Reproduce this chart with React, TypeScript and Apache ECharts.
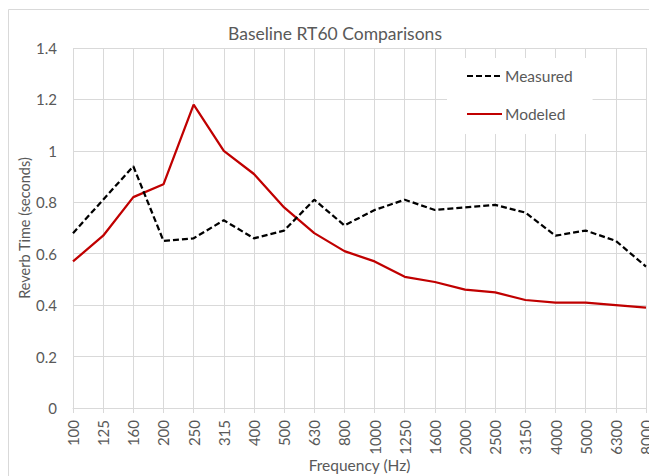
import React, { useEffect, useRef } from "react";
import * as echarts from "echarts";

const frequencies = ["100", "125", "160", "200", "250", "315", "400", "500", "630", "800", "1000", "1250", "1600", "2000", "2500", "3150", "4000", "5000", "6300", "8000"];
const measured = [0.68, 0.81, 0.94, 0.65, 0.66, 0.73, 0.66, 0.69, 0.81, 0.71, 0.77, 0.81, 0.77, 0.78, 0.79, 0.76, 0.67, 0.69, 0.65, 0.55];
const modeled = [0.57, 0.67, 0.82, 0.87, 1.18, 1.0, 0.91, 0.78, 0.68, 0.61, 0.57, 0.51, 0.49, 0.46, 0.45, 0.42, 0.41, 0.41, 0.4, 0.39];

const FONT = "Lato, 'Liberation Sans', sans-serif";
const TEXT = "#595959";
const GRID = "#d9d9d9";

export default function App() {
  const ref = useRef<HTMLDivElement>(null);
  useEffect(() => {
    if (!ref.current) return;
    const chart = echarts.init(ref.current, null, { renderer: "svg" });
    chart.setOption({
      animation: false,
      backgroundColor: "#fff",
      textStyle: { fontFamily: FONT },
      title: {
        text: "Baseline RT60 Comparisons",
        left: 330,
        textAlign: "center",
        top: 19,
        textStyle: { fontFamily: FONT, fontSize: 17.5, fontWeight: "normal", color: TEXT },
      },
      graphic: [
        {
          type: "rect",
          shape: { x: 8.5, y: 9.5, width: 700, height: 520 },
          style: { fill: "none", stroke: GRID, lineWidth: 1 },
          z: -1,
          silent: true,
        },
      ],
      legend: {
        orient: "vertical",
        left: 447,
        top: 58,
        backgroundColor: "#fff",
        padding: [10, 20, 12, 19],
        itemWidth: 35,
        itemHeight: 14,
        itemGap: 22,
        itemStyle: { opacity: 0 },
        textStyle: { fontFamily: FONT, fontSize: 15.5, color: TEXT, padding: [0, 0, 0, -2] },
        data: ["Measured", "Modeled"],
        z: 10,
      },
      grid: { left: 73, right: 3, top: 48, bottom: 68, containLabel: false, outerBoundsMode: "none" },
      xAxis: {
        type: "category",
        data: frequencies,
        boundaryGap: false,
        name: "Frequency (Hz)",
        nameLocation: "middle",
        nameGap: 49,
        nameMoveOverlap: false,
        nameTextStyle: { fontFamily: FONT, fontSize: 15.5, color: TEXT },
        axisLine: { lineStyle: { color: GRID, width: 1 } },
        axisTick: { show: true, alignWithLabel: true, length: 5, lineStyle: { color: GRID } },
        axisLabel: { rotate: 90, fontFamily: FONT, fontSize: 15, color: TEXT, margin: 12, interval: 0 },
        splitLine: { show: true, lineStyle: { color: GRID, width: 1 } },
      },
      yAxis: {
        type: "value",
        min: 0,
        max: 1.4,
        interval: 0.2,
        name: "Reverb Time (seconds)",
        nameLocation: "middle",
        nameGap: 41,
        nameMoveOverlap: false,
        nameTextStyle: { fontFamily: FONT, fontSize: 14.5, color: TEXT },
        axisLine: { show: false },
        axisTick: { show: false },
        axisLabel: {
          fontFamily: FONT,
          fontSize: 15,
          color: TEXT,
          margin: 16,
          formatter: (v: number) => String(Math.round(v * 10) / 10),
        },
        splitLine: { show: true, lineStyle: { color: GRID, width: 1 } },
      },
      series: [
        {
          name: "Measured",
          type: "line",
          data: measured,
          symbol: "none",
          color: "#000",
          lineStyle: { color: "#000", width: 2.25, type: [6, 3] },
          z: 3,
        },
        {
          name: "Modeled",
          type: "line",
          data: modeled,
          symbol: "none",
          color: "#c00000",
          lineStyle: { color: "#c00000", width: 2.25 },
          z: 2,
        },
      ],
    });
    return () => chart.dispose();
  }, []);
  return <div ref={ref} style={{ position: "fixed", left: 0, top: 0, width: 649, height: 476 }} />;
}
